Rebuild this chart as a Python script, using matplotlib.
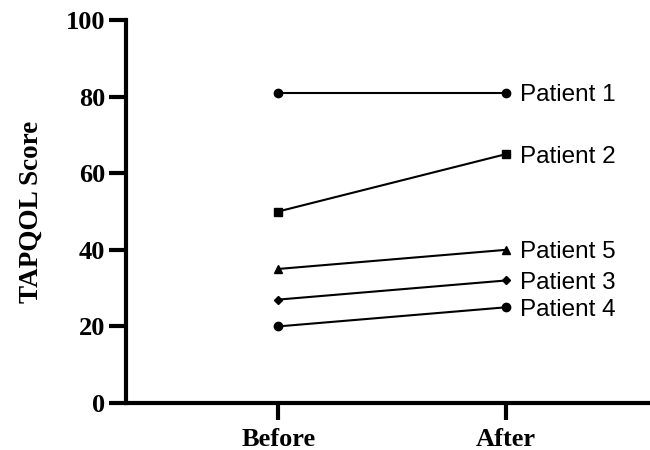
import matplotlib
matplotlib.use("Agg")
import matplotlib.pyplot as plt

# ── data ──────────────────────────────────────────────────────────────────────
TIMEPOINTS = ["Before", "After"]
PATIENTS   = ["Patient 1", "Patient 2", "Patient 3", "Patient 4", "Patient 5"]
BEFORE     = [81, 50, 27, 20, 35]
AFTER      = [81, 65, 32, 25, 40]
Y_TICKS    = [0, 20, 40, 60, 80, 100]

MARKERS = {"Patient 1": ("o", 6), "Patient 2": ("s", 6), "Patient 3": ("D", 4.5),
           "Patient 4": ("o", 6), "Patient 5": ("^", 5.5)}

SERIF = ["Liberation Serif", "DejaVu Serif"]
SANS  = ["Liberation Sans", "DejaVu Sans"]

fig = plt.figure(figsize=(6.5, 4.5), dpi=100)
ax = fig.add_axes([0.194, 0.1044, 0.806, 0.8512])

xs = list(range(len(TIMEPOINTS)))
for name, b, a in zip(PATIENTS, BEFORE, AFTER):
    m, ms = MARKERS[name]
    ax.plot(xs, [b, a], color="black", lw=1.5, marker=m, ms=ms, clip_on=False)
    ax.annotate(name, xy=(xs[-1], a), xytext=(10, 0), textcoords="offset points",
                va="center_baseline", ha="left", fontsize=17.5, family=SANS)

ax.set_xlim(-0.667, 1.63)
ax.set_ylim(0, 100)
ax.set_xticks(xs)
ax.set_xticklabels(TIMEPOINTS)
ax.set_yticks(Y_TICKS)

for side in ("top", "right"):
    ax.spines[side].set_visible(False)
for side in ("left", "bottom"):
    ax.spines[side].set_linewidth(3.0)

ax.tick_params(axis="both", width=3.0, length=12, labelsize=19)
ax.tick_params(axis="y", pad=3)
ax.tick_params(axis="x", pad=6)
for lab in ax.get_xticklabels() + ax.get_yticklabels():
    lab.set_family(SERIF)
    lab.set_fontweight("bold")

ax.set_ylabel("TAPQOL Score", fontsize=19.5, fontweight="bold", family=SERIF, labelpad=16)

fig.savefig("out.png", dpi=100)
